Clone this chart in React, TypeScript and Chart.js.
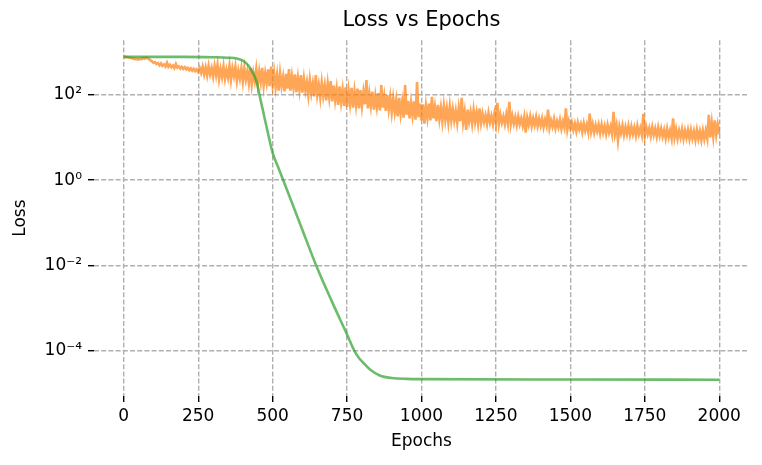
import React, { useEffect, useRef } from "react";
import { Chart, registerables } from "chart.js";

Chart.register(...registerables);

const FONT = "'DejaVu Sans', 'Liberation Sans', sans-serif";

// x-axis ticks (epochs)
const xTicks = [0, 250, 500, 750, 1000, 1250, 1500, 1750, 2000];
// y-axis ticks (log scale)
const yTicks = [1e-4, 1e-2, 1, 1e2];
const yTickLabels = ["10⁻⁴", "10⁻²", "10⁰", "10²"];

// Green series (smooth)
const greenEpochs = [0, 200, 300, 350, 380, 400, 410, 423, 446, 457, 468, 484, 500, 520, 550, 600, 648, 700, 750, 776, 790, 804, 827, 860, 900, 950, 1000, 1500, 2000];
const greenLoss = [776, 776, 759, 741, 708, 631, 560, 440, 204, 91, 41, 12.9, 4.37, 1.9, 0.55, 0.068, 0.0093, 0.00138, 0.00024, 0.000095, 0.0000676, 0.0000525, 0.0000363, 0.0000263, 0.0000229, 0.0000219, 0.0000216, 0.0000212, 0.0000209];

// Orange series (noisy), one value every 5 epochs from 0 to 2000
const orangeEpochs = Array.from({ length: 401 }, (_, i) => i * 5);
const orangeLoss = [
  776,
  780, 760, 765, 735, 730, 700, 705, 680, 690, 670, 700, 685, 725, 700, 745, 720, 690, 640, 610, 560,
  585, 525, 555, 490, 545, 475, 515, 460, 565, 455, 505, 440, 485, 425, 525, 435, 465, 410, 450, 405,
  445, 395, 430, 378, 418, 365, 405, 356, 396, 345, 425, 325, 455, 300, 440, 285, 470, 300, 420, 265,
  470, 290, 505, 235, 400, 260, 465, 240, 380, 255, 485, 225, 420, 275, 455, 215, 370, 240, 415, 205,
  415, 230, 360, 190, 425, 175, 330, 210, 400, 180, 350, 200, 430, 165, 320, 190, 395, 160, 460, 175,
  330, 150, 290, 125, 320, 160, 260, 120, 310, 140, 400, 125, 270, 145, 300, 115, 250, 130, 290, 112,
  240, 125, 200, 98, 225, 110, 185, 92, 290, 100, 170, 85, 195, 95, 165, 74, 180, 88, 210, 70,
  165, 75, 140, 58, 158, 68, 130, 55, 150, 52, 125, 62, 145, 50, 120, 58, 140, 48, 128, 55,
  115, 60, 220, 48, 105, 55, 118, 45, 95, 52, 110, 43, 170, 50, 92, 42, 100, 46, 88, 39,
  82, 40, 75, 31, 85, 36, 68, 29, 170, 34, 72, 28, 64, 33, 70, 26, 200, 30, 62, 25,
  60, 21, 55, 29, 62, 25, 90, 28, 52, 24, 58, 27, 50, 24, 55, 26, 48, 23, 53, 25,
  46, 25, 42, 22, 48, 24, 85, 23, 40, 15, 45, 24, 39, 21, 44, 23, 38, 21, 48, 22,
  36, 23, 33, 21, 37, 22.5, 32, 20.5, 36, 22, 65, 21, 34, 22.5, 31, 20.5, 35, 21.5, 68, 20.5,
  32, 21, 30, 19.5, 31, 20.5, 28, 19, 30, 13, 29, 20, 31, 18.5, 28, 19.5, 30, 18.5, 27.5, 19,
  28, 17.5, 26, 19, 45, 17, 25, 18, 27, 16.5, 24, 17.5, 26, 16, 23.5, 17, 48, 15.5, 24, 16.5,
  22.5, 15, 21, 14, 22, 15.5, 20.5, 13.5, 21.5, 14.5, 20, 13.5, 36, 14, 20.5, 13, 19.5, 14, 20, 12.5,
  20, 13, 18.5, 12, 19.5, 13, 18, 12, 40, 12.5, 19, 8.5, 18, 12.5, 19, 11.5, 17.5, 12, 18.5, 11.5,
  18, 12, 17, 11, 18.5, 12, 16.5, 11.5, 36, 11, 17.5, 12, 16.5, 10.8, 17.5, 11.5, 16, 10.5, 17, 11,
  16, 10.5, 15, 9.6, 16, 10.2, 14.5, 9.5, 28, 10, 15.5, 9.4, 14.5, 10, 15.5, 9.3, 14.5, 9.8, 15, 9.3,
  15, 9.5, 14, 8.8, 15, 9.3, 14, 8.7, 14.5, 9.2, 14.5, 9.5, 34, 10, 22, 10.5, 25, 11.5, 20, 12,
];

export default function App() {
  const ref = useRef<HTMLCanvasElement | null>(null);

  useEffect(() => {
    if (!ref.current) return;
    const grid = {
      color: "#b0b0b0",
      lineWidth: 1.4,
      tickColor: "#000",
      tickLength: 6,
      tickWidth: 1.4,
      tickBorderDash: [],
    };
    const border = { display: false, dash: [5, 2.2] };
    const chart = new Chart(ref.current, {
      type: "line",
      data: {
        datasets: [
          {
            label: "green",
            data: greenEpochs.map((x, i) => ({ x, y: greenLoss[i] })),
            borderColor: "rgba(44,160,44,0.7)",
            borderWidth: 2.6,
            pointRadius: 0,
            cubicInterpolationMode: "monotone",
            order: 0,
          },
          {
            label: "orange",
            data: orangeEpochs.map((x, i) => ({ x, y: orangeLoss[i] })),
            borderColor: "rgba(255,127,14,0.7)",
            borderWidth: 2.6,
            pointRadius: 0,
            tension: 0,
            order: 1,
          },
        ],
      },
      options: {
        responsive: false,
        animation: false,
        layout: { padding: { left: 0, right: 13, top: 0, bottom: 0 } },
        plugins: {
          legend: { display: false },
          tooltip: { enabled: false },
          title: {
            display: true,
            text: "Loss vs Epochs",
            fullSize: false,
            color: "#000",
            font: { family: FONT, size: 21, weight: "normal" },
            padding: { top: 8, bottom: 7 },
          },
        },
        scales: {
          x: {
            type: "linear",
            min: -100,
            max: 2100,
            afterBuildTicks: (s: any) => {
              s.ticks = xTicks.map((v) => ({ value: v }));
            },
            afterFit: (s: any) => {
              s.height = 69;
            },
            ticks: {
              autoSkip: false,
              maxRotation: 0,
              color: "#000",
              padding: 4,
              font: { family: FONT, size: 17 },
              callback: (v: any) => String(v),
            },
            grid,
            border,
            title: {
              display: true,
              text: "Epochs",
              color: "#000",
              font: { family: FONT, size: 17 },
              padding: { top: 0, bottom: 13 },
            },
          },
          y: {
            type: "logarithmic",
            min: 8.7e-6,
            max: 1905,
            afterBuildTicks: (s: any) => {
              s.ticks = yTicks.map((v) => ({ value: v }));
            },
            afterFit: (s: any) => {
              s.width = 94;
            },
            ticks: {
              autoSkip: false,
              color: "#000",
              padding: 6,
              font: { family: FONT, size: 17 },
              callback: (v: any) => {
                const idx = yTicks.findIndex((t) => Math.abs(Math.log10(t) - Math.log10(v)) < 1e-6);
                return idx >= 0 ? yTickLabels[idx] : "";
              },
            },
            grid,
            border,
            title: {
              display: true,
              text: "Loss",
              color: "#000",
              font: { family: FONT, size: 17 },
              padding: { top: 10, bottom: 0 },
            },
          },
        },
      },
    } as any);
    return () => chart.destroy();
  }, []);

  return (
    <div style={{ position: "absolute", left: 0, top: 0, width: 762, height: 465, background: "#fff" }}>
      <canvas ref={ref} width={762} height={465} style={{ width: 762, height: 465 }} />
    </div>
  );
}
